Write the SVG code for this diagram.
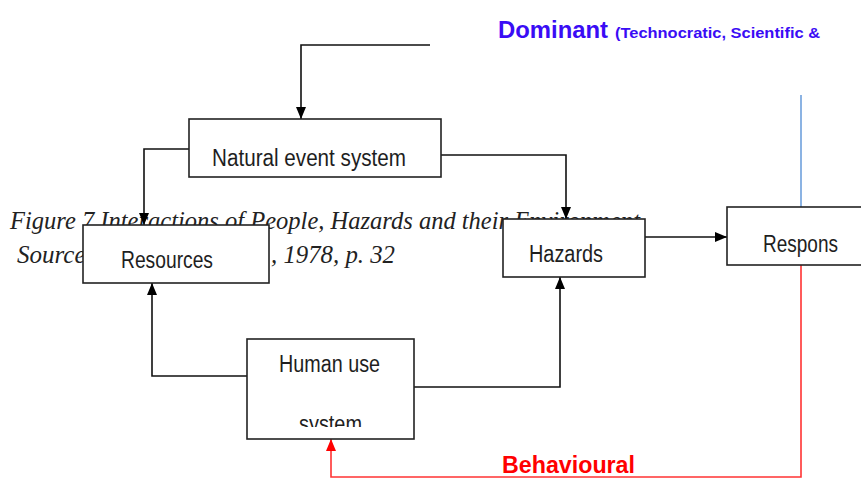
<svg xmlns="http://www.w3.org/2000/svg" width="861" height="479" viewBox="0 0 861 479">
<style>
.box{fill:#fff;stroke:#222;stroke-width:1.6}
.lbl{font-family:"Liberation Sans",Arial,sans-serif;font-size:23px;fill:#1e1e1e}
.cap{font-family:"Liberation Serif","Times New Roman",serif;font-style:italic;font-size:25px;fill:#222}
.con{fill:none;stroke:#111;stroke-width:1.6}
</style>
<defs>
<marker id="ah" viewBox="0 0 12 10" refX="12" refY="5" markerWidth="12" markerHeight="10" markerUnits="userSpaceOnUse" orient="auto"><path d="M0,0 L12,5 L0,10 z" fill="#000"/></marker>
<marker id="ahr" viewBox="0 0 12 10" refX="12" refY="5" markerWidth="12" markerHeight="10" markerUnits="userSpaceOnUse" orient="auto"><path d="M0,0 L12,5 L0,10 z" fill="#f00"/></marker>
<clipPath id="clipSys"><rect x="248" y="380" width="165" height="47"/></clipPath>
</defs>
<rect width="861" height="479" fill="#fff"/>
<text class="cap" x="10" y="229" textLength="630" lengthAdjust="spacingAndGlyphs">Figure 7 Interactions of People, Hazards and their Environment</text>
<text class="cap" x="17" y="263">Source</text>
<text class="cap" x="271" y="263" textLength="124" lengthAdjust="spacingAndGlyphs">, 1978, p. 32</text>
<text x="498" y="38" font-family="Liberation Sans,Arial,sans-serif" font-weight="bold" font-size="24" fill="#3a0cf5" textLength="110" lengthAdjust="spacingAndGlyphs">Dominant</text>
<text x="615" y="38" font-family="Liberation Sans,Arial,sans-serif" font-weight="bold" font-size="14" fill="#3a0cf5" textLength="205" lengthAdjust="spacingAndGlyphs">(Technocratic, Scientific &amp;</text>
<text x="502" y="473" font-family="Liberation Sans,Arial,sans-serif" font-weight="bold" font-size="23" fill="#ff0000" textLength="133" lengthAdjust="spacingAndGlyphs">Behavioural</text>
<g id="connectors">
<path class="con" d="M430,45 H301 V119" marker-end="url(#ah)"/>
<path class="con" d="M189,149 H144 V225" marker-end="url(#ah)"/>
<path class="con" d="M441,155 H566 V219" marker-end="url(#ah)"/>
<path class="con" d="M645,237 H727" marker-end="url(#ah)"/>
<path class="con" d="M247,376 H152 V283" marker-end="url(#ah)"/>
<path class="con" d="M414,387 H560 V277" marker-end="url(#ah)"/>
<path d="M801,95 V207" fill="none" stroke="#6fa0dc" stroke-width="1.6"/>
<path d="M801,265 V477 H331 V439" fill="none" stroke="#ff3333" stroke-width="1.6" marker-end="url(#ahr)"/>
</g>
<g id="natural">
<rect class="box" x="189" y="119" width="252" height="58"/>
<text class="lbl" x="212" y="166" textLength="194" lengthAdjust="spacingAndGlyphs">Natural event system</text>
</g>
<g id="resources">
<rect class="box" x="83" y="225" width="186" height="58"/>
<text class="lbl" x="121" y="268" textLength="92" lengthAdjust="spacingAndGlyphs">Resources</text>
</g>
<g id="hazards">
<rect class="box" x="503" y="219" width="142" height="58"/>
<text class="lbl" x="529" y="262" textLength="74" lengthAdjust="spacingAndGlyphs">Hazards</text>
</g>
<g id="respons">
<rect class="box" x="727" y="207" width="140" height="58"/>
<text class="lbl" x="763" y="252" textLength="75" lengthAdjust="spacingAndGlyphs">Respons</text>
</g>
<g id="humanuse">
<rect class="box" x="247" y="339" width="167" height="100"/>
<text class="lbl" x="279" y="372" textLength="101" lengthAdjust="spacingAndGlyphs">Human use</text>
<text class="lbl" x="299" y="432" textLength="63" lengthAdjust="spacingAndGlyphs" clip-path="url(#clipSys)">system</text>
</g>
</svg>
